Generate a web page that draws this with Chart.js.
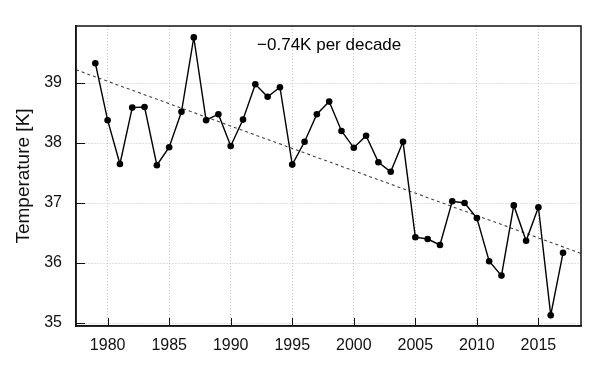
<!DOCTYPE html>
<html>
<head>
<meta charset="utf-8">
<script src="https://cdn.jsdelivr.net/npm/chart.js@4.4.0/dist/chart.umd.min.js"></script>
<style>
  body { margin: 0; background: #fff; }
  #wrap { width: 605px; height: 375px; }
</style>
</head>
<body>
<div id="wrap"><canvas id="chart" width="605" height="375"></canvas></div>
<script>
// yearly values
const years = [1979, 1980, 1981, 1982, 1983, 1984, 1985, 1986, 1987, 1988,
  1989, 1990, 1991, 1992, 1993, 1994, 1995, 1996, 1997, 1998,
  1999, 2000, 2001, 2002, 2003, 2004, 2005, 2006, 2007, 2008,
  2009, 2010, 2011, 2012, 2013, 2014, 2015, 2016, 2017];
const temps = [39.33, 38.38, 37.65, 38.59, 38.60, 37.63, 37.93, 38.52, 39.76, 38.38,
  38.48, 37.95, 38.39, 38.98, 38.77, 38.93, 37.64, 38.02, 38.48, 38.69,
  38.20, 37.92, 38.12, 37.68, 37.52, 38.02, 36.43, 36.40, 36.30, 37.03,
  37.00, 36.75, 36.03, 35.79, 36.96, 36.37, 36.93, 35.13, 36.17];

// linear trend, ends at the plot edges
const trendYears = [1977.43, 2018.46];
const trendTemps = [39.22, 36.16];

const xTicks = [1980, 1985, 1990, 1995, 2000, 2005, 2010, 2015];
const yTicks = [35, 36, 37, 38, 39];
const xRange = [1977.43, 2018.46];
const yRange = [34.95, 39.95];

const trendText = '\u22120.74K per decade';
const trendTextAt = [1998, 39.63];

const FONT = '"Liberation Sans", Arial, sans-serif';

// box round the plot, inward tick marks, trend note
const boxPlugin = {
  id: 'box',
  afterDraw(chart) {
    const { ctx, chartArea: a, scales: { x, y } } = chart;
    ctx.save();
    ctx.strokeStyle = '#111';
    ctx.lineWidth = 1;
    ctx.beginPath();
    xTicks.forEach(v => {
      const px = Math.round(x.getPixelForValue(v)) + 0.5;
      ctx.moveTo(px, a.bottom);
      ctx.lineTo(px, a.bottom - 8);
    });
    yTicks.forEach(v => {
      const py = Math.round(y.getPixelForValue(v)) + 0.5;
      ctx.moveTo(a.left, py);
      ctx.lineTo(a.left + 9, py);
    });
    ctx.stroke();
    ctx.lineWidth = 1.5;
    ctx.strokeRect(a.left, a.top, a.right - a.left, a.bottom - a.top);

    ctx.fillStyle = '#000';
    ctx.font = '17px ' + FONT;
    ctx.textAlign = 'center';
    ctx.textBaseline = 'middle';
    ctx.fillText(trendText, x.getPixelForValue(trendTextAt[0]), y.getPixelForValue(trendTextAt[1]));
    ctx.restore();
  }
};

new Chart(document.getElementById('chart'), {
  type: 'line',
  data: {
    datasets: [
      {
        data: years.map((yr, i) => ({ x: yr, y: temps[i] })),
        borderColor: '#000',
        borderWidth: 1.4,
        pointRadius: 3.3,
        pointBackgroundColor: '#000',
        pointBorderWidth: 0,
        tension: 0,
        order: 0
      },
      {
        data: trendYears.map((yr, i) => ({ x: yr, y: trendTemps[i] })),
        borderColor: '#444',
        borderWidth: 1.1,
        borderDash: [3, 3],
        pointRadius: 0,
        order: 1
      }
    ]
  },
  options: {
    responsive: false,
    animation: false,
    layout: { padding: { left: 0, top: 26, right: 24, bottom: 0 } },
    plugins: {
      legend: { display: false },
      tooltip: { enabled: false }
    },
    scales: {
      x: {
        type: 'linear',
        min: xRange[0],
        max: xRange[1],
        afterBuildTicks: s => { s.ticks = xTicks.map(v => ({ value: v })); },
        afterFit: s => { s.height = 49; },
        grid: { color: '#c4c4c4', drawTicks: false },
        border: { color: '#111', width: 1.5, dash: [1, 2] },
        ticks: {
          padding: 10,
          color: '#111',
          font: { family: FONT, size: 16 },
          callback: v => String(v)
        }
      },
      y: {
        min: yRange[0],
        max: yRange[1],
        afterBuildTicks: s => { s.ticks = yTicks.map(v => ({ value: v })); },
        afterFit: s => { s.width = 76; },
        grid: { color: '#c4c4c4', drawTicks: false },
        border: { color: '#111', width: 1.5, dash: [1, 2] },
        ticks: {
          padding: 14,
          color: '#111',
          font: { family: FONT, size: 16 }
        },
        title: {
          display: true,
          text: 'Temperature [K]',
          color: '#111',
          font: { family: FONT, size: 19 },
          padding: { top: 12, bottom: 0 }
        }
      }
    }
  },
  plugins: [boxPlugin]
});
</script>
</body>
</html>
